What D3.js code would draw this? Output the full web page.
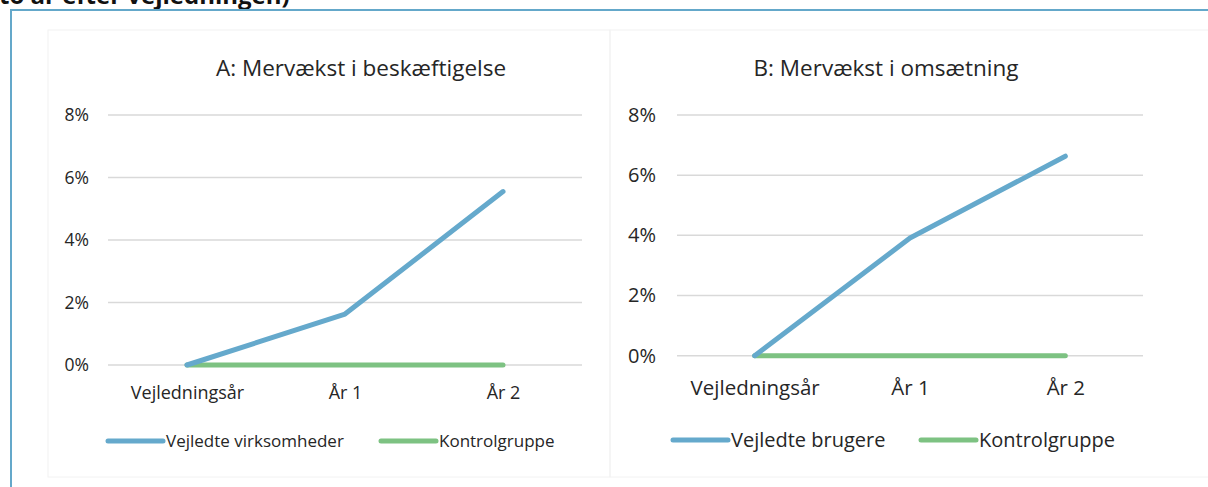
<!DOCTYPE html>
<html>
<head>
<meta charset="utf-8">
<script src="https://cdn.jsdelivr.net/npm/d3@7"></script>
<style>
  body { margin: 0; background: #fff; overflow: hidden; }
  svg { display: block; font-family: "Open Sans", "Noto Sans", sans-serif; }
</style>
</head>
<body>
<svg id="chart" width="1208" height="487"></svg>
<script>
// Data
const categories = ["Vejledningsår", "År 1", "År 2"];
const yTicks = [0, 0.02, 0.04, 0.06, 0.08];

const beskaeftigelseVejledte = [0, 0.0163, 0.0555];
const beskaeftigelseKontrol = [0, 0, 0];
const omsaetningVejledte = [0, 0.0391, 0.0663];
const omsaetningKontrol = [0, 0, 0];

const titleA = "A: Mervækst i beskæftigelse";
const titleB = "B: Mervækst i omsætning";
const legendA = ["Vejledte virksomheder", "Kontrolgruppe"];
const legendB = ["Vejledte brugere", "Kontrolgruppe"];

const colors = ["#65a9cc", "#7dc282"];
const textColor = "#262626";

const svg = d3.select("#chart");

// clipped heading from the page above
svg.append("text")
    .attr("x", -1)
    .attr("y", 4)
    .style("font-size", "24px")
    .style("font-weight", "bold")
    .attr("fill", "#111")
    .text("to år efter vejledningen)");

// outer blue frame
svg.append("rect")
    .attr("x", 11)
    .attr("y", 10)
    .attr("width", 1220)
    .attr("height", 500)
    .attr("fill", "none")
    .attr("stroke", "#64a8ca")
    .attr("stroke-width", 2);

function drawPanel(opts) {
    const g = svg.append("g");

    // faint chart-area border
    g.append("rect")
        .attr("x", opts.box[0])
        .attr("y", opts.box[1])
        .attr("width", opts.box[2])
        .attr("height", opts.box[3])
        .attr("fill", "none")
        .attr("stroke", "#f2f2f2")
        .attr("stroke-width", 1);

    const x = d3.scalePoint()
        .domain(categories)
        .range([opts.left, opts.right])
        .padding(0.5);

    const y = d3.scaleLinear()
        .domain([0, 0.08])
        .range([opts.bottom, opts.top]);

    // gridlines
    g.selectAll(".grid")
        .data(yTicks)
        .enter()
        .append("line")
        .attr("x1", opts.left)
        .attr("x2", opts.right)
        .attr("y1", d => y(d))
        .attr("y2", d => y(d))
        .attr("stroke", "#d9d9d9")
        .attr("stroke-width", 1.5);

    // y axis labels
    const yAxis = g.append("g")
        .attr("transform", "translate(" + opts.left + ",0)")
        .call(d3.axisLeft(y).tickValues(yTicks).tickFormat(d3.format(".0%")).tickSize(0).tickPadding(opts.yPad));
    yAxis.select(".domain").remove();
    yAxis.selectAll("text")
        .attr("fill", textColor)
        .style("font-size", opts.font + "px")
        .style("font-family", "'Open Sans', sans-serif");

    // x axis labels
    const xAxis = g.append("g")
        .attr("transform", "translate(0," + opts.bottom + ")")
        .call(d3.axisBottom(x).tickSize(0).tickPadding(opts.xPad));
    xAxis.select(".domain").remove();
    xAxis.selectAll("text")
        .attr("fill", textColor)
        .style("font-size", opts.xFont + "px")
        .style("font-family", "'Open Sans', sans-serif");

    // lines
    const line = d3.line()
        .x((d, i) => x(categories[i]))
        .y(d => y(d));

    // control group drawn first, then the guided firms on top
    [opts.series[1], opts.series[0]].forEach((s, k) => {
        g.append("path")
            .datum(s)
            .attr("fill", "none")
            .attr("stroke", colors[1 - k])
            .attr("stroke-width", 5)
            .attr("stroke-linecap", "round")
            .attr("stroke-linejoin", "round")
            .attr("d", line);
    });

    // title
    g.append("text")
        .attr("x", opts.titleX)
        .attr("y", opts.titleY)
        .attr("text-anchor", "middle")
        .attr("fill", textColor)
        .style("font-size", opts.titleFont + "px")
        .text(opts.title);

    // legend
    opts.legend.forEach((name, i) => {
        const lx = opts.legendX[i];
        g.append("line")
            .attr("x1", lx)
            .attr("x2", lx + 55)
            .attr("y1", opts.legendY)
            .attr("y2", opts.legendY)
            .attr("stroke", colors[i])
            .attr("stroke-width", 5)
            .attr("stroke-linecap", "round");
        g.append("text")
            .attr("x", lx + 58)
            .attr("y", opts.legendY)
            .attr("dy", "0.35em")
            .attr("fill", textColor)
            .style("font-size", opts.legendFont + "px")
            .text(name);
    });
}

drawPanel({
    box: [48, 30, 562, 447],
    left: 108, right: 582, top: 115, bottom: 365,
    yPad: 19, xPad: 21, font: 17.5, xFont: 18,
    series: [beskaeftigelseVejledte, beskaeftigelseKontrol],
    title: titleA, titleX: 361, titleY: 76, titleFont: 22.5,
    legend: legendA, legendX: [108, 381], legendY: 441, legendFont: 17
});

drawPanel({
    box: [610, 30, 600, 447],
    left: 677, right: 1143, top: 115, bottom: 355.7,
    yPad: 21, xPad: 25, font: 20, xFont: 20.5,
    series: [omsaetningVejledte, omsaetningKontrol],
    title: titleB, titleX: 886, titleY: 76, titleFont: 22.5,
    legend: legendB, legendX: [673, 921], legendY: 440, legendFont: 20
});
</script>
</body>
</html>
